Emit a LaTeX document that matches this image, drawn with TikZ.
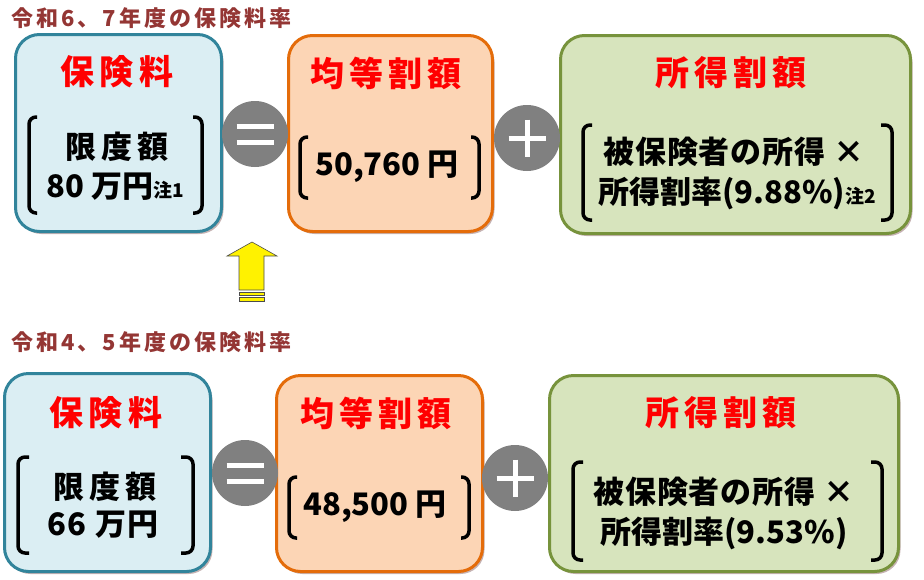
\documentclass[tikz,border=0pt]{standalone}
\usepackage{fontspec}
\setmainfont{Noto Sans CJK JP}
\usetikzlibrary{shadows}
\definecolor{hdrcol}{HTML}{943634}
\definecolor{bluedraw}{HTML}{31849B}
\definecolor{bluefill}{HTML}{DBEEF3}
\definecolor{orgdraw}{HTML}{E46C0A}
\definecolor{orgfill}{HTML}{FCD5B5}
\definecolor{grndraw}{HTML}{77933C}
\definecolor{grnfill}{HTML}{D7E4BD}
\definecolor{opgray}{HTML}{808080}
\definecolor{shadowcol}{HTML}{A08080}
\newcommand{\spacedtext}[2]{{\addfontfeatures{LetterSpace=#1}#2}}
\newcommand{\smallnote}[1]{{\fontsize{19}{19}\selectfont #1}}
\tikzset{
  box/.style={draw, line width=3pt, rounded corners=24pt, inner sep=0pt,
    drop shadow={shadow xshift=2pt, shadow yshift=-2.5pt, fill=shadowcol, opacity=0.6}},
  bluebox/.style={box, draw=bluedraw, fill=bluefill},
  orgbox/.style={box, draw=orgdraw, fill=orgfill},
  grnbox/.style={box, draw=grndraw, fill=grnfill},
  ttl/.style={font=\bfseries\fontsize{34}{34}\selectfont\addfontfeatures{LetterSpace=15}, text=red, inner sep=0pt},
  body/.style={font=\bfseries\fontsize{31}{31}\selectfont, inner sep=0pt},
  hdr/.style={font=\bfseries\fontsize{22}{22}\selectfont\addfontfeatures{LetterSpace=14}, text=hdrcol, inner sep=0pt, anchor=west},
  opcircle/.style={circle, fill=opgray, minimum size=66pt, inner sep=0pt},
  opbar/.style={line width=5pt, white},
  brk/.style={line width=3.5pt, rounded corners=7pt},
  arrowshape/.style={fill=yellow, draw=black!70, line width=0.6pt}
}
\begin{document}
\begin{tikzpicture}[x=1pt,y=-1pt]
\useasboundingbox (0,0) rectangle (924,579);
% ---------------- top row ----------------
\node[hdr] (h1) at (11,18) {令和6、7年度の保険料率};
\node[bluebox, minimum width=206pt, minimum height=197pt] (b1) at (118.5,133) {};
\node[orgbox, minimum width=204pt, minimum height=196pt] (b2) at (390.5,133.5) {};
\node[grnbox, minimum width=350pt, minimum height=198pt] (b3) at (735.5,134.5) {};
\node[opcircle] (eq1) at (255,134) {};
\draw[opbar] (236.5,126) -- (273.5,126) (236.5,142) -- (273.5,142);
\node[opcircle] (pl1) at (527,138) {};
\draw[opbar] (508.5,138) -- (545.5,138) (527,119.5) -- (527,156.5);
\node[ttl] (t1) at (117,72) {保険料};
\node[body] (l1a) at (117,147) {\spacedtext{15}{限度額}};
\node[body] (l1b) at (115,187) {80 万円\smallnote{注1}};
\draw[brk] (37,117) -- (29,117) -- (29,213) -- (37,213);
\draw[brk] (193,117) -- (202,117) -- (202,213) -- (193,213);
\node[ttl] (t2) at (386,73) {均等割額};
\node[body] (v2) at (387,167) {50,760 円};
\draw[brk] (308,137) -- (300,137) -- (300,198) -- (308,198);
\draw[brk] (471,137) -- (479,137) -- (479,198) -- (471,198);
\node[ttl] (t3) at (731,73) {所得割額};
\node[body] (g1) at (734,152) {\spacedtext{3}{被保険者の所得 ×}};
\node[body] (g2) at (737,193) {所得割率(9.88\%)\smallnote{注2}};
\draw[brk] (592,125) -- (583,125) -- (583,220) -- (592,220);
\draw[brk] (881,125) -- (892,125) -- (892,220) -- (881,220);
% arrow
\draw[arrowshape] (252,242) -- (277,256) -- (264,256) -- (264,290) -- (239,290) -- (239,256) -- (227,256) -- cycle;
\draw[arrowshape] (239,292) rectangle (264,295.5);
\draw[arrowshape] (239,297.5) rectangle (264,301);
% ---------------- bottom row ----------------
\node[hdr] (h2) at (11,342) {令和4、5年度の保険料率};
\node[bluebox, minimum width=206pt, minimum height=198pt] (c1) at (107.5,472.5) {};
\node[orgbox, minimum width=206pt, minimum height=196pt] (c2) at (379.5,473.5) {};
\node[grnbox, minimum width=349pt, minimum height=196pt] (c3) at (724,473.5) {};
\node[opcircle] (eq2) at (245,473) {};
\draw[opbar] (226.5,465) -- (263.5,465) (226.5,481) -- (263.5,481);
\node[opcircle] (pl2) at (515,478) {};
\draw[opbar] (496.5,478) -- (533.5,478) (515,459.5) -- (515,496.5);
\node[ttl] (t4) at (106,413) {保険料};
\node[body] (l2a) at (105,487) {\spacedtext{15}{限度額}};
\node[body] (l2b) at (103,525) {\spacedtext{5}{66 万円}};
\draw[brk] (29,457) -- (18,457) -- (18,553) -- (29,553);
\draw[brk] (181,457) -- (193,457) -- (193,553) -- (181,553);
\node[ttl] (t5) at (376,413) {均等割額};
\node[body] (v5) at (375,507) {48,500 円};
\draw[brk] (297,477) -- (289,477) -- (289,538) -- (297,538);
\draw[brk] (461,477) -- (469,477) -- (469,538) -- (461,538);
\node[ttl] (t6) at (721,413) {所得割額};
\node[body] (k1) at (724,492) {\spacedtext{3}{被保険者の所得 ×}};
\node[body] (k2) at (724,533) {所得割率(9.53\%)};
\draw[brk] (583,462) -- (573,462) -- (573,560) -- (583,560);
\draw[brk] (871,462) -- (882,462) -- (882,560) -- (871,560);
\end{tikzpicture}
\end{document}
